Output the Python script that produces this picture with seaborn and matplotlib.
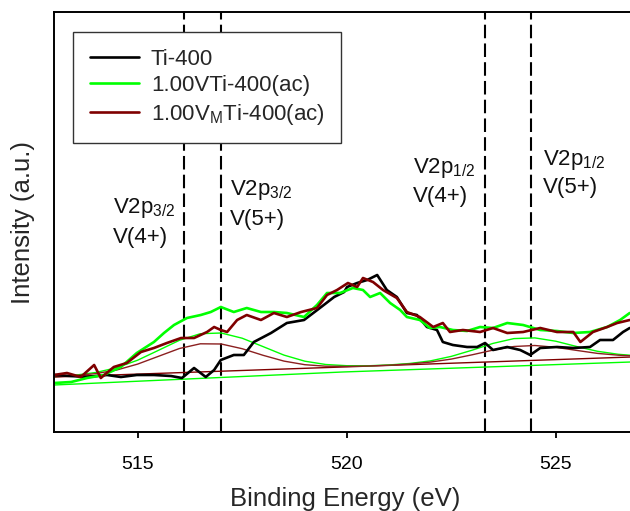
import matplotlib
matplotlib.use("Agg")
import matplotlib.pyplot as plt
import seaborn as sns

# Binding energy (eV) / intensity (a.u.)
ti_x = [513.0, 513.79, 514.27, 514.6, 514.98, 515.39, 515.8, 516.06, 516.35, 516.63,
        516.83, 516.99, 517.3, 517.54, 517.78, 518.19, 518.57, 518.98, 519.39, 519.7,
        519.94, 520.01, 520.25, 520.49, 520.73, 520.96, 521.2, 521.44, 521.68, 521.92,
        522.16, 522.3, 522.54, 522.88, 523.12, 523.31, 523.5, 523.84, 524.15, 524.39,
        524.63, 525.03, 525.42, 525.82, 526.06, 526.37, 526.61, 526.77]
ti_y = [57, 55, 57, 55, 57, 57, 56, 54, 64, 55,
        62, 72, 77, 77, 90, 99, 109, 112, 125, 135,
        140, 145, 149, 152, 157, 142, 135, 119, 117, 105,
        102, 90, 87, 85, 85, 89, 82, 85, 82, 77,
        84, 85, 84, 85, 92, 92, 100, 104]

v_x = [513.0, 513.41, 513.79, 514.19, 514.6, 514.98, 515.39, 515.63, 515.87, 516.18,
       516.51, 516.75, 516.99, 517.3, 517.61, 517.95, 518.26, 518.57, 518.98, 519.29,
       519.53, 519.84, 520.15, 520.39, 520.56, 520.8, 521.04, 521.28, 521.44, 521.75,
       521.99, 522.23, 522.54, 522.88, 523.19, 523.5, 523.84, 524.22, 524.63, 525.03,
       525.42, 525.82, 526.23, 526.54, 526.77]
v_y = [49, 50, 54, 57, 65, 79, 90, 99, 107, 114,
       117, 120, 125, 120, 124, 120, 120, 119, 115, 127,
       139, 139, 144, 142, 135, 139, 129, 122, 115, 112,
       104, 105, 102, 101, 105, 104, 109, 107, 102, 101,
       99, 100, 105, 112, 119]

vm_x = [513.0, 513.31, 513.64, 513.96, 514.12, 514.43, 514.74, 515.08, 515.39, 515.7,
        516.04, 516.35, 516.66, 516.83, 516.99, 517.14, 517.38, 517.61, 517.95, 518.26,
        518.57, 518.91, 519.29, 519.53, 519.77, 520.03, 520.25, 520.39, 520.63, 520.87,
        521.2, 521.44, 521.75, 522.07, 522.3, 522.47, 522.78, 523.19, 523.5, 523.84,
        524.22, 524.63, 525.03, 525.42, 525.59, 525.89, 526.23, 526.47, 526.77]
vm_y = [57, 59, 55, 67, 54, 65, 69, 80, 84, 89,
        94, 94, 100, 105, 102, 100, 112, 117, 112, 119,
        115, 120, 124, 137, 142, 149, 145, 154, 150, 142,
        134, 120, 115, 105, 109, 100, 102, 100, 104, 99,
        100, 104, 100, 100, 90, 100, 105, 109, 112]

# fitted envelopes (thin lines)
fit_x = [513.0, 513.5, 514.0, 514.5, 515.0, 515.5, 516.0, 516.5, 517.0, 517.5,
         518.0, 518.5, 519.0, 519.5, 520.0, 520.5, 521.0, 521.5, 522.0, 522.5,
         523.0, 523.5, 524.0, 524.5, 525.0, 525.5, 526.0, 526.5, 526.8]
fit_v_y = [55.4, 56.8, 59.5, 64.3, 71.8, 81.7, 91.7, 98.3, 99.0, 93.8,
           85.4, 76.9, 70.8, 67.5, 66.3, 66.2, 67.0, 68.5, 71.1, 75.6,
           81.8, 88.6, 93.4, 94.1, 90.8, 85.5, 80.7, 77.7, 76.7]
fit_vm_y = [55.2, 56.4, 58.4, 62.0, 67.9, 75.7, 83.5, 88.2, 88.0, 83.3,
            76.7, 70.9, 67.3, 65.8, 65.6, 66.0, 66.8, 68.0, 69.9, 72.9,
            77.2, 81.9, 85.5, 86.5, 84.7, 81.6, 78.6, 76.8, 76.2]

# backgrounds
bg_vm_x = [513.0, 526.8]
bg_vm_y = [55, 75]
bg_v_x = [513.0, 519.9, 526.8]
bg_v_y = [47, 60, 70]

peak_lines = [516.1, 517.0, 523.3, 524.4]
labels = [("V2p$_{3/2}$", "V(4+)", 514.41, 219, 189),
          ("V2p$_{3/2}$", "V(5+)", 517.21, 237, 207),
          ("V2p$_{1/2}$", "V(4+)", 521.59, 259, 230),
          ("V2p$_{1/2}$", "V(5+)", 524.70, 267, 239)]

sns.set_theme(style="white")
plt.rcParams['font.family'] = ['Liberation Sans', 'DejaVu Sans']
plt.rcParams['mathtext.fontset'] = 'custom'
plt.rcParams['mathtext.rm'] = 'Liberation Sans'
plt.rcParams['mathtext.it'] = 'Liberation Sans'
plt.rcParams['mathtext.default'] = 'regular'

GREEN = '#00ff00'
RED = '#7f0000'

fig = plt.figure(figsize=(6.3, 5.11), dpi=100)
ax = fig.add_axes([54 / 630, 1 - 432 / 511, 582 / 630, 420 / 511])

# thin fit components
sns.lineplot(x=bg_v_x, y=bg_v_y, ax=ax, color=GREEN, lw=1.0, estimator=None, sort=False)
sns.lineplot(x=bg_vm_x, y=bg_vm_y, ax=ax, color=RED, lw=1.0, estimator=None, sort=False)
sns.lineplot(x=fit_x, y=fit_v_y, ax=ax, color=GREEN, lw=1.0, estimator=None, sort=False)
sns.lineplot(x=fit_x, y=fit_vm_y, ax=ax, color='#8b2020', lw=1.0, estimator=None, sort=False)

# measured spectra
sns.lineplot(x=ti_x, y=ti_y, ax=ax, color='black', lw=1.9, estimator=None, sort=False, label='Ti-400')
sns.lineplot(x=v_x, y=v_y, ax=ax, color=GREEN, lw=1.9, estimator=None, sort=False, label='1.00VTi-400(ac)')
sns.lineplot(x=vm_x, y=vm_y, ax=ax, color=RED, lw=1.9, estimator=None, sort=False, label='1.00V$_M$Ti-400(ac)')

for xv in peak_lines:
    ax.axvline(xv, color='black', lw=1.5, dashes=(6.5, 2.5), zorder=1)

for l1, l2, xt, y1, y2 in labels:
    ax.text(xt, y1, l1, fontsize=16, va='baseline', ha='left', color='#111111')
    ax.text(xt, y2, l2, fontsize=16, va='baseline', ha='left', color='#111111')

ax.set_xlim(513.0, 526.92)
ax.set_ylim(0, 420)
ax.set_xticks([515, 520, 525])
ax.set_yticks([])
ax.tick_params(axis='x', direction='out', length=4, width=1.3, labelsize=14, pad=13,
               bottom=True, colors='black')
ax.set_xlabel('Binding Energy (eV)', fontsize=18.5, labelpad=10.5)
ax.set_ylabel('Intensity (a.u.)', fontsize=18.5, labelpad=14)

for side in ['left', 'top', 'bottom']:
    ax.spines[side].set_color('black')
    ax.spines[side].set_linewidth(1.4)
ax.spines['right'].set_visible(False)

leg = ax.legend(loc='upper left', bbox_to_anchor=((73 - 54) / 582, (432 - 32) / 420),
                borderaxespad=0, fontsize=16, frameon=True, fancybox=False,
                handlelength=2.2, handletextpad=0.55, labelspacing=0.25, borderpad=0.75)
leg.get_frame().set_edgecolor('#333333')
leg.get_frame().set_linewidth(1.0)
leg.get_frame().set_alpha(1)

fig.savefig('out.png', dpi=100)
